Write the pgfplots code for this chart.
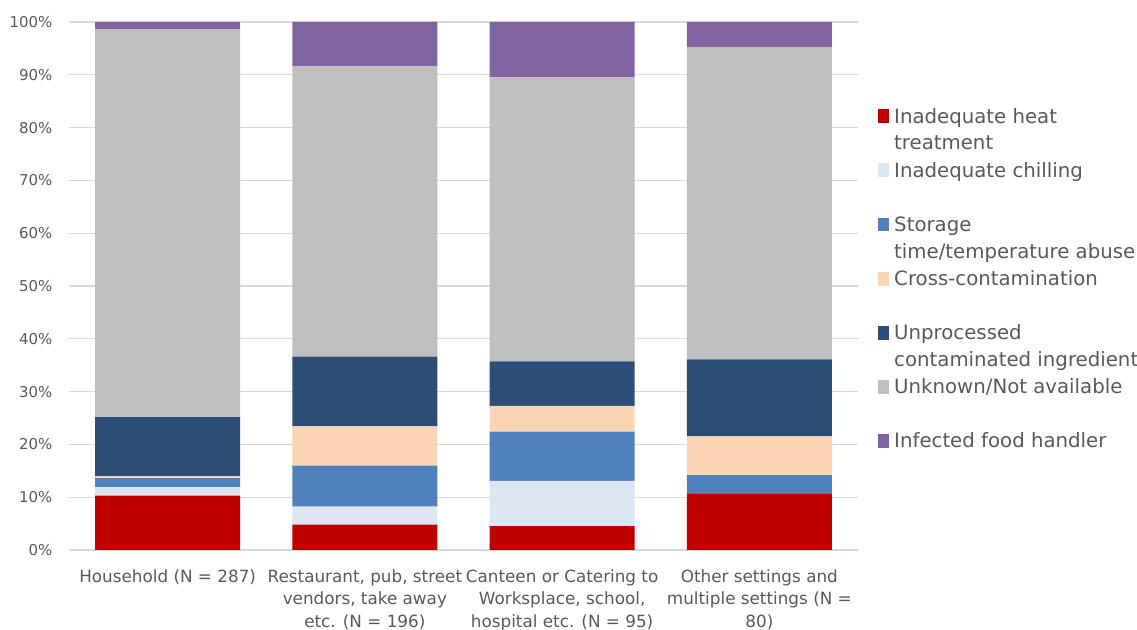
\documentclass[border=0pt]{standalone}
\usepackage{pgfplots}
\pgfplotsset{compat=1.18}
\usepackage{fontspec}
\setmainfont{DejaVu Sans}
\definecolor{cHeat}{HTML}{C00000}
\definecolor{cChill}{HTML}{DCE6F2}
\definecolor{cStor}{HTML}{4F81BD}
\definecolor{cCross}{HTML}{FCD5B5}
\definecolor{cUnproc}{HTML}{2C4D75}
\definecolor{cUnk}{HTML}{BFBFBF}
\definecolor{cInf}{HTML}{8064A2}
\definecolor{textgray}{HTML}{595959}
\definecolor{gridgray}{HTML}{D9D9D9}
\pgfplotsset{legsq/.style={legend image code/.code={\path (0pt,0pt); \fill[##1,draw=none] (0pt,-3.8pt) rectangle (8.25pt,-14.2pt);}}}
\newcommand{\legtext}[1]{\parbox[b][38.9pt][t]{220pt}{\strut #1}}
\begin{document}
\begin{tikzpicture}
\begin{axis}[
  scale only axis, width=591.75pt, height=396pt,
  ybar stacked, bar width=0.735,
  xmin=-0.5, xmax=3.5, ymin=0, ymax=100,
  xtick={0,1,2,3},
  xticklabels={{Household (N = 287)},{Restaurant, pub, street\\vendors, take away\\etc. (N = 196)},{Canteen or Catering to\\Worksplace, school,\\hospital etc. (N = 95)},{Other settings and\\multiple settings (N =\\80)}},
  ytick={0,10,...,100},
  yticklabel={\pgfmathprintnumber{\tick}\%},
  /pgf/number format/assume math mode=true,
  ymajorgrids, grid style={draw=gridgray, line width=1pt},
  axis line style={draw=none}, major tick length=0pt,
  tick label style={text=textgray},
  yticklabel style={font=\fontsize{11.2}{14}\selectfont, xshift=-9pt},
  xticklabel style={font=\fontsize{12.6}{17}\selectfont, align=center, yshift=-11pt},
  legend style={at={(axis description cs:1.0253,0.8447)}, anchor=north west, draw=none, fill=none, inner sep=0pt, row sep=0pt, column sep=3.75pt, cells={anchor=north west}, nodes={inner sep=0pt, text=textgray, font=\fontsize{14.8}{20}\selectfont}},
]
\addplot[fill=cHeat, draw=none, legsq] coordinates {(0,10.3) (1,4.8) (2,4.5) (3,10.7)};
\addlegendentry{\legtext{Inadequate heat\\treatment}}
\addplot[fill=cChill, draw=none, legsq] coordinates {(0,1.6) (1,3.4) (2,8.6) (3,0)};
\addlegendentry{\legtext{Inadequate chilling}}
\addplot[fill=cStor, draw=none, legsq] coordinates {(0,1.7) (1,7.8) (2,9.3) (3,3.5)};
\addlegendentry{\legtext{Storage\\time/temperature abuse}}
\addplot[fill=cCross, draw=none, legsq] coordinates {(0,0.35) (1,7.4) (2,4.9) (3,7.3)};
\addlegendentry{\legtext{Cross-contamination}}
\addplot[fill=cUnproc, draw=none, legsq] coordinates {(0,11.2) (1,13.2) (2,8.4) (3,14.6)};
\addlegendentry{\legtext{Unprocessed\\contaminated ingredient}}
\addplot[fill=cUnk, draw=none, legsq] coordinates {(0,73.5) (1,55.1) (2,53.8) (3,59.2)};
\addlegendentry{\legtext{Unknown/Not available}}
\addplot[fill=cInf, draw=none, legsq] coordinates {(0,1.35) (1,8.3) (2,10.5) (3,4.7)};
\addlegendentry{\legtext{Infected food handler}}
\end{axis}
\pgfresetboundingbox
\path ([shift={(-51.75pt,-60pt)}]current axis.south west) rectangle ([shift={(801pt,412.5pt)}]current axis.south west);
\end{tikzpicture}
\end{document}
